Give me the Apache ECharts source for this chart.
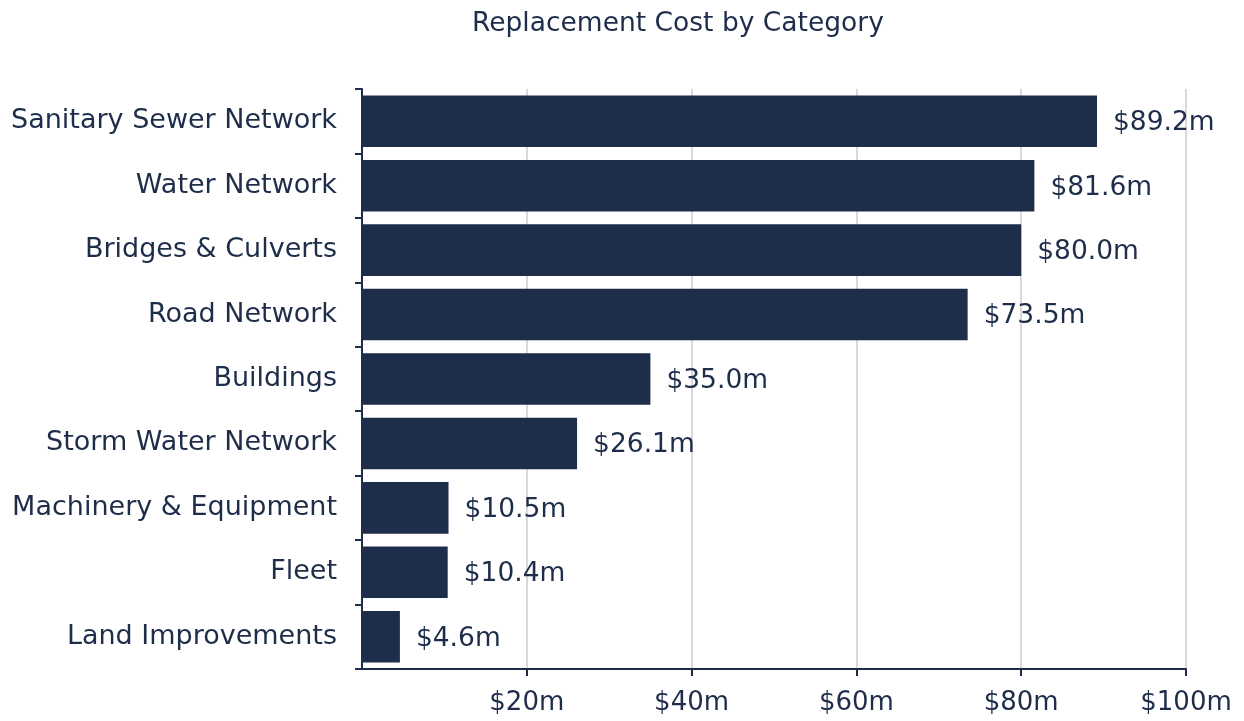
<!DOCTYPE html>
<html><head><meta charset="utf-8">
<script src="https://cdn.jsdelivr.net/npm/echarts@6/dist/echarts.min.js"></script>
<style>html,body{margin:0;padding:0;background:#fff}#c{width:1244px;height:721px}</style>
</head><body><div id="c"></div>
<script>
const categories = ["Sanitary Sewer Network","Water Network","Bridges & Culverts","Road Network","Buildings","Storm Water Network","Machinery & Equipment","Fleet","Land Improvements"];
const values = [89.2, 81.6, 80.0, 73.5, 35.0, 26.1, 10.5, 10.4, 4.6];
const xTicks = [0, 20, 40, 60, 80, 100];
const title = "Replacement Cost by Category";

const dark = '#1e2d4a';
const font = 'DejaVu Sans';
const chart = echarts.init(document.getElementById('c'));
chart.setOption({
  animation: false,
  title: { text: title, left: 467, top: 6, textStyle: { fontFamily: font, fontSize: 26.5, fontWeight: 'normal', color: dark } },
  grid: { left: 362, right: 58, top: 89, bottom: 52, containLabel: false },
  xAxis: {
    type: 'value', min: xTicks[0], max: xTicks[xTicks.length-1], interval: 20,
    axisLine: { show: true, lineStyle: { color: dark, width: 2 } },
    axisTick: { show: true, length: 7, lineStyle: { color: dark, width: 2 } },
    splitLine: { show: true, lineStyle: { color: '#d9d9d9', width: 2 } },
    axisLabel: { showMinLabel: false, margin: 21, fontFamily: font, fontSize: 26, color: dark, formatter: v => '$' + v + 'm' }
  },
  yAxis: {
    type: 'category', data: categories, inverse: true,
    axisLine: { show: true, lineStyle: { color: dark, width: 2 } },
    axisTick: { show: true, length: 7, lineStyle: { color: dark, width: 2 } },
    axisLabel: { margin: 25, fontFamily: font, fontSize: 27, color: dark, padding: [5, 0, 0, 0] }
  },
  series: [{
    type: 'bar', data: values, barCategoryGap: '20%',
    itemStyle: { color: dark },
    label: { show: true, position: 'right', distance: 16, fontFamily: font, fontSize: 26.5, color: dark, offset: [0, 2], formatter: p => '$' + p.value.toFixed(1) + 'm' }
  }]
});
</script></body></html>
